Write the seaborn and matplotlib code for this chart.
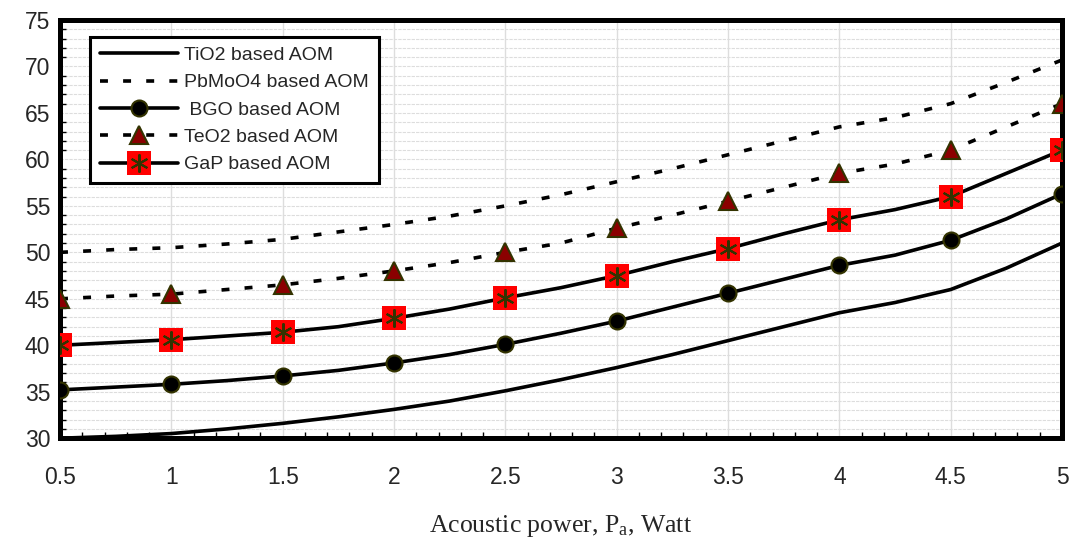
import numpy as np
import pandas as pd
import matplotlib
matplotlib.use("Agg")
import matplotlib.pyplot as plt
from matplotlib.lines import Line2D
from matplotlib.legend_handler import HandlerTuple
from matplotlib.ticker import MultipleLocator
import seaborn as sns

# ---- data ----
power = [0.5, 0.75, 1.0, 1.25, 1.5, 1.75, 2.0, 2.25, 2.5, 2.75, 3.0,
         3.25, 3.5, 3.75, 4.0, 4.25, 4.5, 4.75, 5.0]
tio2 = [30.0, 30.2, 30.5, 31.0, 31.6, 32.3, 33.1, 34.0, 35.1, 36.3, 37.6,
        39.0, 40.5, 42.0, 43.5, 44.6, 46.0, 48.3, 51.0]
pbmoo4 = [50.0, 50.3, 50.5, 50.9, 51.4, 52.2, 53.0, 53.9, 55.0, 56.2, 57.6,
          59.0, 60.5, 62.0, 63.5, 64.5, 66.0, 68.3, 70.7]
bgo = [35.2, 35.5, 35.8, 36.2, 36.7, 37.3, 38.1, 39.0, 40.1, 41.3, 42.6,
       44.1, 45.6, 47.1, 48.6, 49.7, 51.3, 53.6, 56.3]
teo2 = [45.0, 45.3, 45.5, 46.0, 46.5, 47.2, 48.0, 48.9, 50.0, 51.0, 52.6,
        54.0, 55.5, 57.0, 58.5, 59.5, 61.0, 63.5, 66.0]
gap = [40.0, 40.3, 40.6, 41.0, 41.4, 42.0, 42.9, 43.9, 45.1, 46.2, 47.5,
       49.0, 50.4, 52.0, 53.5, 54.6, 56.0, 58.5, 61.0]
labels = ["TiO2 based AOM", "PbMoO4 based AOM", " BGO based AOM",
          "TeO2 based AOM", "GaP based AOM"]
x_ticks = [0.5, 1, 1.5, 2, 2.5, 3, 3.5, 4, 4.5, 5]
x_ticklabels = ["0.5", "1", "1.5", "2", "2.5", "3", "3.5", "4", "4.5", "5"]
y_ticks = [30, 35, 40, 45, 50, 55, 60, 65, 70, 75]

sns.set_style("white")
plt.rcParams["font.family"] = ["Liberation Sans", "DejaVu Sans"]
plt.rcParams["mathtext.fontset"] = "custom"
plt.rcParams["mathtext.rm"] = "Liberation Serif"
plt.rcParams["mathtext.it"] = "Liberation Serif:italic"

fig = plt.figure(figsize=(10.72, 5.41), dpi=100)
ax = fig.add_axes([0.056, 0.190, 0.9347, 0.773])

LW = 2.6
DASH = (2.2, 4.2)
edge = "#333300"
MS_O, MS_T, MS_S, MS_A = 11.5, 13.5, 17, 13

sns.lineplot(x=power, y=tio2, ax=ax, color="black", lw=LW, zorder=3)
sns.lineplot(x=power, y=pbmoo4, ax=ax, color="black", lw=LW, zorder=3,
             dashes=False, linestyle=(0, DASH))
sns.lineplot(x=power, y=bgo, ax=ax, color="black", lw=LW, zorder=3,
             marker="o", markevery=2, markersize=MS_O, markerfacecolor="black",
             markeredgecolor=edge, markeredgewidth=1.5)
sns.lineplot(x=power, y=teo2, ax=ax, color="black", lw=LW, zorder=3,
             linestyle=(0, DASH), marker="^", markevery=2, markersize=MS_T,
             markerfacecolor="#8b0000", markeredgecolor=edge, markeredgewidth=1.5)
sns.lineplot(x=power, y=gap, ax=ax, color="black", lw=LW, zorder=3,
             marker="s", markevery=2, markersize=MS_S, markerfacecolor="#ff0000",
             markeredgewidth=0)
sns.lineplot(x=power, y=gap, ax=ax, color="black", lw=0, zorder=4,
             marker=(6, 2, 0), markevery=2, markersize=MS_A,
             markeredgecolor=edge, markeredgewidth=1.5)

ax.set_xlim(0.5, 5)
ax.set_ylim(30, 75)
ax.set_xticks(x_ticks)
ax.set_xticklabels(x_ticklabels)
ax.set_yticks(y_ticks)
ax.xaxis.set_minor_locator(MultipleLocator(0.1))
ax.yaxis.set_minor_locator(MultipleLocator(1))
ax.tick_params(axis="both", which="major", labelsize=16.5, direction="in",
               length=6, width=1.2, color="black")
ax.tick_params(axis="x", which="major", pad=20)
ax.tick_params(axis="y", which="major", pad=7)
ax.tick_params(axis="both", which="minor", direction="in", length=4,
               width=1.0, color="black", bottom=True, left=True)

ax.grid(True, axis="x", which="major", color="#dddddd", lw=1.0, zorder=0)
ax.grid(True, axis="y", which="both", color="#dddddd", lw=0.8,
        linestyle=(0, (3, 1)), zorder=0)
ax.set_axisbelow(True)

for s in ax.spines.values():
    s.set_visible(True)
    s.set_color("black")
    s.set_linewidth(3.6)

ax.set_xlabel("Acoustic power, P$_{\\mathrm{a}}$, Watt", fontsize=18.5,
              family="Liberation Serif", labelpad=17)
ax.set_ylabel("")

# legend
h_tio2 = Line2D([], [], color="black", lw=LW)
h_pb = Line2D([], [], color="black", lw=LW, linestyle=(0, DASH))
h_bgo = Line2D([], [], color="black", lw=LW, marker="o", markersize=MS_O,
               markerfacecolor="black", markeredgecolor=edge, markeredgewidth=1.5)
h_teo = Line2D([], [], color="black", lw=LW, linestyle=(0, DASH), marker="^",
               markersize=MS_T, markerfacecolor="#8b0000", markeredgecolor=edge,
               markeredgewidth=1.5)
h_gap1 = Line2D([], [], color="black", lw=LW, marker="s", markersize=MS_S,
                markerfacecolor="#ff0000", markeredgewidth=0)
h_gap2 = Line2D([], [], color="black", lw=0, marker=(6, 2, 0), markersize=MS_A,
                markeredgecolor=edge, markeredgewidth=1.5)
leg = ax.legend([h_tio2, h_pb, h_bgo, h_teo, (h_gap1, h_gap2)], labels,
                handler_map={tuple: HandlerTuple(ndivide=1)},
                loc="upper left", bbox_to_anchor=(0.03, 0.96),
                fontsize=14, frameon=True, fancybox=False, framealpha=1,
                edgecolor="black", handlelength=4.0, labelspacing=0.5,
                borderpad=0.5, handletextpad=0.35, borderaxespad=0)
leg.get_frame().set_linewidth(2.2)
leg.set_zorder(10)

fig.savefig("out.png", dpi=100)
